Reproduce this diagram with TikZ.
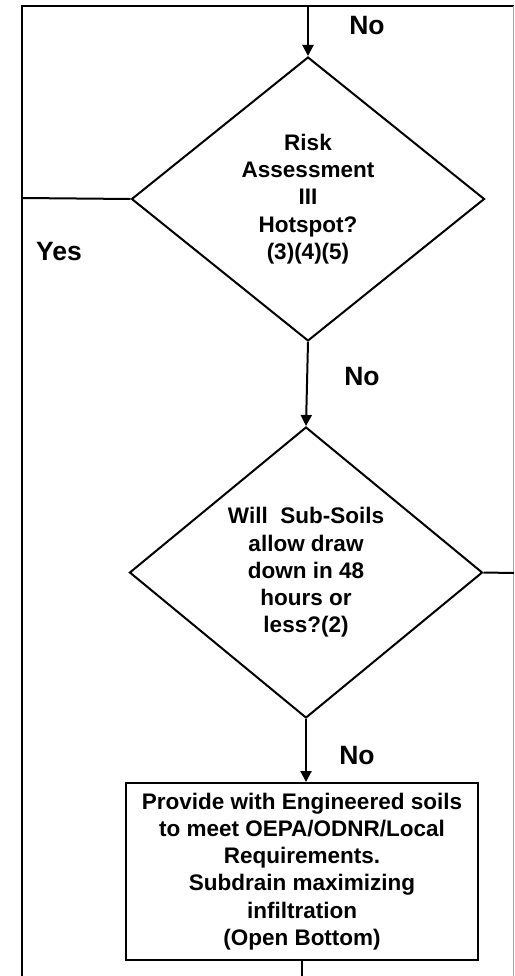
\documentclass[tikz,border=0pt]{standalone}
\usepackage{fontspec}
\setmainfont{Liberation Sans}
\usetikzlibrary{shapes.geometric,arrows.meta}
\begin{document}
\begin{tikzpicture}[x=1pt,y=-1pt,
  line/.style={line width=2pt,draw=black},
  arr/.style={line, -{Triangle[width=11pt,length=11pt]}},
  decision/.style={diamond, line, aspect=1, inner sep=0pt, align=center,
    font=\bfseries\fontsize{22.5}{27.3}\selectfont},
  procbox/.style={rectangle, line, inner sep=0pt, align=center,
    font=\bfseries\fontsize{22.5}{27.3}\selectfont},
  lbl/.style={font=\bfseries\fontsize{26.5}{30}\selectfont, inner sep=0pt}]
\useasboundingbox (0,0) rectangle (514,976);
% frame
\coordinate (tl) at (22,6);
\coordinate (tr) at (514,6);
\coordinate (bl) at (22,976);
\coordinate (rt) at (513,6);
\coordinate (rb) at (513,976);
\draw[line] (tr) -- (tl) -- (bl);
\draw[gray!70, line width=0.9pt] (rt) -- (rb);
% nodes
\node[decision, minimum width=353pt, minimum height=284pt] (d1) at (308,199)
  {Risk\\Assessment\\III\\Hotspot?\\(3)(4)(5)};
\node[decision, minimum width=353pt, minimum height=291pt] (d2) at (306,572.5)
  {Will~~Sub-Soils\\allow draw\\down in 48\\hours or\\less?(2)};
\node[procbox, minimum width=352pt, minimum height=177pt] (b1) at (302,871.5)
  {Provide with Engineered soils\\to meet OEPA/ODNR/Local\\Requirements.\\Subdrain maximizing\\infiltration\\(Open Bottom)};
% coordinates for free ends
\coordinate (top) at (308,6);
\coordinate (lft) at (22,198);
\coordinate (rgt) at (514,573);
\coordinate (bot) at (302,976);
% connectors
\draw[arr] (top) -- (d1.north);
\draw[line] (d1.west) -- (lft);
\draw[arr] (d1.south) -- (d2.north);
\draw[line] (d2.east) -- (rgt);
\draw[arr] (d2.south) -- (d2.south |- b1.north);
\draw[line] (b1.south) -- (bot);
% labels
\node[lbl] (no1) at (367,26) {No};
\node[lbl] (yes1) at (59,252) {Yes};
\node[lbl] (no2) at (362,377) {No};
\node[lbl] (no3) at (357,756) {No};
\end{tikzpicture}
\end{document}
